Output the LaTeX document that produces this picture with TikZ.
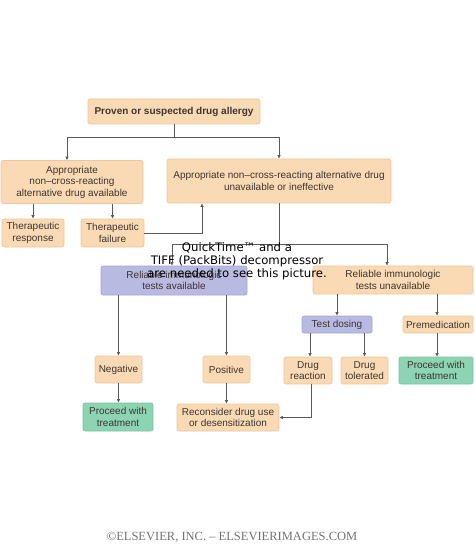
\documentclass[tikz,border=0pt]{standalone}
\usepackage{fontspec}
\setmainfont{Liberation Sans}
\newfontfamily\qtfont{DejaVu Sans}
\newfontfamily\elsfont{Liberation Serif}
\usepackage{xcolor}
\usepackage{tikz}
\usetikzlibrary{arrows.meta,positioning,calc}
\definecolor{peach}{HTML}{F9DAB4}
\definecolor{peachline}{HTML}{EDC79A}
\definecolor{lavender}{HTML}{B9BAE2}
\definecolor{lavenderline}{HTML}{A3A4D4}
\definecolor{mint}{HTML}{8CD4B4}
\definecolor{mintline}{HTML}{76C2A2}
\definecolor{wire}{HTML}{5A5A5A}
\definecolor{boxtext}{HTML}{3E3530}

\begin{document}
\begin{tikzpicture}[x=1pt,y=-1pt,
      every node/.style={font=\fontsize{10}{11.5}\selectfont,text=boxtext},
      drugbox/.style={draw=peachline,fill=peach,rounded corners=2pt,align=center,inner sep=1pt,line width=0.6pt},
      testbox/.style={draw=lavenderline,fill=lavender,rounded corners=2pt,align=center,inner sep=1pt,line width=0.6pt},
      gobox/.style={draw=mintline,fill=mint,rounded corners=2pt,align=center,inner sep=1pt,line width=0.6pt},
      line/.style={draw=wire,line width=0.8pt},
      arr/.style={line,-{Latex[length=3.5pt,width=3.5pt]}}
  ]
    \useasboundingbox (0,0) rectangle (474,548);

    \node[drugbox,minimum width=172pt,minimum height=25pt] (allergy) at (174,111.5)
      {\textbf{Proven or suspected drug allergy}};
    \node[drugbox,minimum width=142pt,minimum height=43pt] (avail) at (72,182)
      {Appropriate\\non–cross-reacting\\alternative drug available};
    \node[drugbox,minimum width=224pt,minimum height=44pt] (unavail) at (279,181)
      {Appropriate non–cross-reacting alternative drug\\unavailable or ineffective};
    \node[drugbox,minimum width=62pt,minimum height=28pt] (response) at (33,233)
      {Therapeutic\\response};
    \node[drugbox,minimum width=63pt,minimum height=28pt] (failure) at (112.5,233)
      {Therapeutic\\failure};
    \node[testbox,minimum width=146pt,minimum height=29pt] (tests) at (174,280.5)
      {Reliable immunologic\\tests available};
    \node[drugbox,minimum width=160pt,minimum height=28pt] (notests) at (393,280)
      {Reliable immunologic\\tests unavailable};
    \node[testbox,minimum width=70pt,minimum height=17pt] (dosing) at (337,324.5)
      {Test dosing};
    \node[drugbox,minimum width=70pt,minimum height=17pt] (premed) at (438,324.5)
      {Premedication};
    \node[drugbox,minimum width=48pt,minimum height=27pt] (reaction) at (308,370.5)
      {Drug\\reaction};
    \node[drugbox,minimum width=47pt,minimum height=27pt] (tolerated) at (364.5,370.5)
      {Drug\\tolerated};
    \node[gobox,minimum width=74pt,minimum height=27pt] (proceedR) at (436,370.5)
      {Proceed with\\treatment};
    \node[drugbox,minimum width=47pt,minimum height=27pt] (negative) at (118.5,369.5)
      {Negative};
    \node[drugbox,minimum width=47pt,minimum height=27pt] (positive) at (226.5,369.5)
      {Positive};
    \node[gobox,minimum width=70pt,minimum height=28pt] (proceedL) at (118,417)
      {Proceed with\\treatment};
    \node[drugbox,minimum width=102pt,minimum height=27pt] (reconsider) at (228,417.5)
      {Reconsider drug use\\or desensitization};

    \coordinate (split1) at (174,137);
    \coordinate (split2) at (279,244);

    \draw[line] (allergy) -- (split1);
    \draw[arr] (split1) -| ([xshift=-5pt]avail.north);
    \draw[arr] (split1) -| (unavail.north);
    \draw[arr] (response |- avail.south) -- (response);
    \draw[arr] (failure |- avail.south) -- (failure);
    \draw[arr] (failure.east) -| ([xshift=-77pt]unavail.south);
    \draw[line] (unavail) -- (split2);
    \draw[arr] (split2) -| ([xshift=-2pt]tests.north);
    \draw[arr] (split2) -| ([xshift=-6pt]notests.north);
    \draw[arr] (negative |- tests.south) -- (negative);
    \draw[arr] (positive |- tests.south) -- (positive);
    \draw[arr] (negative) -- (negative |- proceedL.north);
    \draw[arr] (positive) -- (positive |- reconsider.north);
    \draw[arr] (dosing |- notests.south) -- (dosing);
    \draw[arr] ([xshift=-1pt]premed |- notests.south) -- ([xshift=-1pt]premed.north);
    \draw[arr] ([xshift=2pt]reaction |- dosing.south) -- ([xshift=2pt]reaction.north);
    \draw[arr] (tolerated |- dosing.south) -- (tolerated);
    \draw[arr] ([xshift=-1pt]premed.south) -- ([xshift=-1pt]premed |- proceedR.north);
    \draw[arr] ([xshift=3pt]reaction.south) |- (reconsider.east);

    \node[font=\qtfont\fontsize{11.7}{12.8}\selectfont,text=black,align=center] (quicktime) at (237,261)
      {QuickTime™ and a\\TIFF (PackBits) decompressor\\are needed to see this picture.};
    \node[font=\elsfont\fontsize{12.5}{14}\selectfont,text=black!55] (credit) at (232,537)
      {©ELSEVIER, INC. – ELSEVIERIMAGES.COM};
  \end{tikzpicture}
\end{document}
